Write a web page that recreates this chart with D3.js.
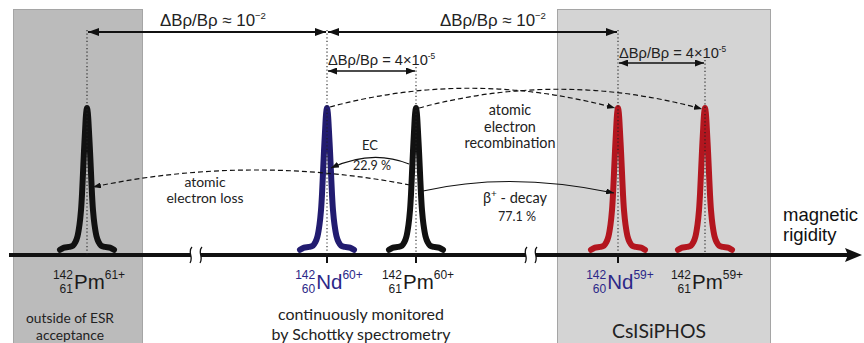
<!DOCTYPE html>
<html><head><meta charset="utf-8">
<script src="https://cdn.jsdelivr.net/npm/d3@7"></script>
<style>
html,body{margin:0;padding:0;background:#fff;}
svg{display:block;}
</style></head>
<body>
<script>
// ---------- data ----------
const peakSymbols = ["Pm", "Nd", "Pm", "Nd", "Pm"];
const peakMass = ["142", "142", "142", "142", "142"];
const peakZ = ["61", "60", "61", "60", "61"];
const peakCharge = ["61+", "60+", "60+", "59+", "59+"];
const peakPos = [87, 327, 416, 618, 705];            // position along magnetic-rigidity axis (diagram units)
const peakColor = ["#111111", "#221c70", "#111111", "#b3161f", "#b3161f"];
const labelColor = ["#1a1a1a", "#2c2888", "#1a1a1a", "#2c2888", "#1a1a1a"];
const peakTick = [false, true, true, true, false];
const dottedTop = [30, 30, 67, 30, 60];
// peak profile: offset from centre, relative height
const profileDx = [-27, -23, -18, -14, -11.5, -9.5, -7.5, -6, -5, -4, -3, -1.8, -0.9, 0, 0.9, 1.8, 3, 4, 5, 6, 7.5, 9.5, 11.5, 14, 18, 23, 27];
const profileH  = [0.015, 0.03, 0.035, 0.045, 0.07, 0.11, 0.19, 0.29, 0.4, 0.55, 0.7, 0.86, 0.96, 1, 0.96, 0.86, 0.7, 0.55, 0.4, 0.29, 0.19, 0.11, 0.07, 0.045, 0.035, 0.03, 0.015];
const axisBreaks = [196, 531];
const regionNames = ["outside of ESR acceptance", "CsISiPHOS"];
const regionStart = [13, 557];
const regionEnd = [142, 770];
const regionFill = ["#bbbbbb", "#d4d4d4"];

// ---------- setup ----------
const W = 864, H = 343;
const x = d3.scaleLinear().domain([0, 864]).range([0, 864]);
const baseY = 255;
const y = d3.scaleLinear().domain([0, 1]).range([252, 108]);
const svg = d3.select("body").append("svg").attr("width", W).attr("height", H);
const sans = "'Liberation Sans', Arial, sans-serif";
const hum = "Lato, 'Noto Sans', sans-serif";

const defs = svg.append("defs");
function marker(id, len, wid) {
  defs.append("marker").attr("id", id)
    .attr("viewBox", `0 0 ${len} ${wid}`).attr("refX", len).attr("refY", wid / 2)
    .attr("markerWidth", len).attr("markerHeight", wid).attr("markerUnits", "userSpaceOnUse")
    .attr("orient", "auto-start-reverse")
    .append("path").attr("d", `M0,0 L${len},${wid / 2} L0,${wid} Z`).attr("fill", "#111");
}
marker("big", 11, 8);
marker("mid", 9, 7);
marker("small", 8, 6);

// fit a text's font-size so that its rendered width matches a target
function fit(t, target) {
  const fs = parseFloat(t.attr("font-size"));
  const w = t.node().getComputedTextLength();
  const nfs = fs * target / w;
  t.attr("font-size", nfs);
  return nfs;
}

// ---------- regions ----------
svg.selectAll("rect.region").data(regionStart).join("rect")
  .attr("x", (d) => x(d) + 0.5).attr("y", 9.5)
  .attr("width", (d, i) => x(regionEnd[i]) - x(d)).attr("height", H)
  .attr("fill", (d, i) => regionFill[i]).attr("stroke", "#a5a5a5").attr("stroke-width", 1);

// ---------- axis ----------
svg.append("line").attr("x1", 9).attr("x2", 850).attr("y1", baseY).attr("y2", baseY)
  .attr("stroke", "#111").attr("stroke-width", 4);
svg.append("path").attr("d", `M862,${baseY} L845,${baseY - 7} L848,${baseY} L845,${baseY + 7} Z`).attr("fill", "#111");
axisBreaks.forEach((b) => {
  const bx = x(b);
  svg.append("rect").attr("x", bx - 5).attr("y", baseY - 3).attr("width", 10).attr("height", 6).attr("fill", "#fff");
  [-5, 5].forEach((o) => {
    svg.append("path")
      .attr("d", `M${bx + o + 1},${baseY - 8} C${bx + o - 4},${baseY - 3} ${bx + o + 3},${baseY + 2} ${bx + o - 1},${baseY + 8}`)
      .attr("fill", "none").attr("stroke", "#111").attr("stroke-width", 1.3);
  });
});

// ---------- peaks ----------
const prof = profileDx.map((d, i) => [d, profileH[i]]);
const line = d3.line().x((d) => d[0]).y((d) => y(d[1])).curve(d3.curveCatmullRom);
peakPos.forEach((p, i) => {
  svg.append("path").attr("d", line(prof.map((q) => [x(p) + q[0], q[1]])))
    .attr("fill", "none").attr("stroke", peakColor[i]).attr("stroke-width", 6)
    .attr("stroke-linecap", "round").attr("stroke-linejoin", "round");
});
// dotted centre lines and ticks
peakPos.forEach((p, i) => {
  svg.append("line").attr("x1", x(p)).attr("x2", x(p)).attr("y1", dottedTop[i]).attr("y2", baseY)
    .attr("stroke", "#222").attr("stroke-width", 1.1).attr("stroke-dasharray", "1.2,2.4");
  if (peakTick[i]) svg.append("line").attr("x1", x(p)).attr("x2", x(p)).attr("y1", baseY).attr("y2", baseY + 8)
    .attr("stroke", "#111").attr("stroke-width", 2);
});

// ---------- resolution arrows ----------
function dArrow(x1, x2, yy, w, m) {
  svg.append("line").attr("x1", x1).attr("x2", x2).attr("y1", yy).attr("y2", yy)
    .attr("stroke", "#111").attr("stroke-width", w)
    .attr("marker-start", `url(#${m})`).attr("marker-end", `url(#${m})`);
}
dArrow(x(peakPos[0]) + 1, x(peakPos[1]) - 1, 32, 2, "big");
dArrow(x(peakPos[1]) + 1, x(peakPos[3]) - 1, 32, 2, "big");
dArrow(x(peakPos[1]) + 1, x(peakPos[2]) - 1, 71, 1.5, "mid");
dArrow(x(peakPos[3]) + 1, x(peakPos[4]) - 1, 63, 1.5, "mid");

function resLabel(cx, yy, fs, main, exp, anchor, target) {
  const t = svg.append("text").attr("x", cx).attr("y", yy).attr("font-family", sans)
    .attr("font-size", fs).attr("fill", "#222").attr("text-anchor", anchor);
  t.append("tspan").text(main);
  t.append("tspan").attr("dy", -fs * 0.45).attr("font-size", fs * 0.62).text(exp);
  fit(t, target);
}
resLabel(213, 26, 15.5, "ΔBρ/Bρ ≈ 10", "−2", "middle", 107);
resLabel(493, 26, 15.5, "ΔBρ/Bρ ≈ 10", "−2", "middle", 107);
resLabel(x(peakPos[1]) + 1, 65, 13.5, "ΔBρ/Bρ = 4×10", "-5", "start", 108);
resLabel(x(peakPos[3]) + 1, 58, 13.5, "ΔBρ/Bρ = 4×10", "-5", "start", 108);

// ---------- transitions ----------
function arc(x0, y0, cx, cy, x1, y1, dashed, m) {
  svg.append("path").attr("d", `M${x0},${y0} Q${cx},${cy} ${x1},${y1}`)
    .attr("fill", "none").attr("stroke", "#111").attr("stroke-width", 1.2)
    .attr("stroke-dasharray", dashed ? "5,3" : null)
    .attr("marker-end", `url(#${m})`);
}
arc(x(peakPos[1]) + 3, 107, 470, 69, x(peakPos[3]) - 3, 108, true, "small");
arc(x(peakPos[2]) + 3, 108, 560, 70, x(peakPos[4]) - 3, 109, true, "small");
arc(410, 185, 250, 154, 93, 187, true, "small");
arc(409, 164, 372, 149, 331, 168, false, "small");
arc(423, 191, 510, 171, 614, 193, false, "small");

// multi-line block: one <text>, lines as tspans; font fitted on the widest line
function block(cx, y0, dy, lines, fam, fitLine, target, color) {
  const t = svg.append("text").attr("x", cx).attr("y", y0).attr("text-anchor", "middle")
    .attr("font-family", fam).attr("font-size", 14).attr("fill", color || "#222");
  const probe = svg.append("text").attr("font-family", fam).attr("font-size", 14).text(lines[fitLine]);
  const fs = fit(probe, target);
  probe.remove();
  t.attr("font-size", fs);
  lines.forEach((l, i) => t.append("tspan").attr("x", cx).attr("y", y0 + i * dy).text(l));
  return t;
}
block(510, 115, 16.5, ["atomic", "electron", "recombination"], hum, 2, 91);
block(205, 187, 16, ["atomic", "electron loss"], hum, 1, 77);
block(370, 150, 0, ["EC"], hum, 0, 16);
block(372, 170, 0, ["22.9 %"], hum, 0, 38);
block(517, 221, 0, ["77.1 %"], hum, 0, 38);
const bt = svg.append("text").attr("x", 515).attr("y", 203).attr("text-anchor", "middle")
  .attr("font-family", hum).attr("font-size", 15).attr("fill", "#222");
bt.append("tspan").text("β");
bt.append("tspan").attr("dy", -6).attr("font-size", 10).text("+");
bt.append("tspan").attr("dy", 6).text(" - decay");
fit(bt, 64);

// ---------- nuclide labels ----------
peakPos.forEach((p, i) => {
  const g = svg.append("g").attr("fill", labelColor[i]).attr("font-family", sans);
  const sup = g.append("text").attr("y", 279).attr("font-size", 12).attr("text-anchor", "end").text(peakMass[i]);
  const sub = g.append("text").attr("y", 293).attr("font-size", 12).attr("text-anchor", "end").text(peakZ[i]);
  const sym = g.append("text").attr("y", 289).attr("font-size", 20.5).text(peakSymbols[i]);
  const chg = g.append("text").attr("y", 279).attr("font-size", 12).text(peakCharge[i]);
  const wPre = Math.max(sup.node().getComputedTextLength(), sub.node().getComputedTextLength());
  const wSym = sym.node().getComputedTextLength();
  const wChg = chg.node().getComputedTextLength();
  const left = x(p) + 2 - (wPre + 1 + wSym + wChg) / 2;
  sup.attr("x", left + wPre); sub.attr("x", left + wPre);
  sym.attr("x", left + wPre + 1);
  chg.attr("x", left + wPre + 1 + wSym);
});

// ---------- region / monitor texts ----------
block(70, 323, 16.5, ["outside of ESR", "acceptance"], hum, 0, 88);
block(361, 320, 19.5, ["continuously monitored", "by Schottky spectrometry"], hum, 0, 166);
block(659, 338, 0, [regionNames[1]], hum, 0, 94);
const mr = svg.append("text").attr("x", 783).attr("y", 221).attr("font-family", sans).attr("font-size", 18.5).attr("fill", "#111");
mr.append("tspan").attr("x", 783).attr("y", 221).text("magnetic");
mr.append("tspan").attr("x", 783).attr("y", 241).text("rigidity");
</script>
</body></html>
